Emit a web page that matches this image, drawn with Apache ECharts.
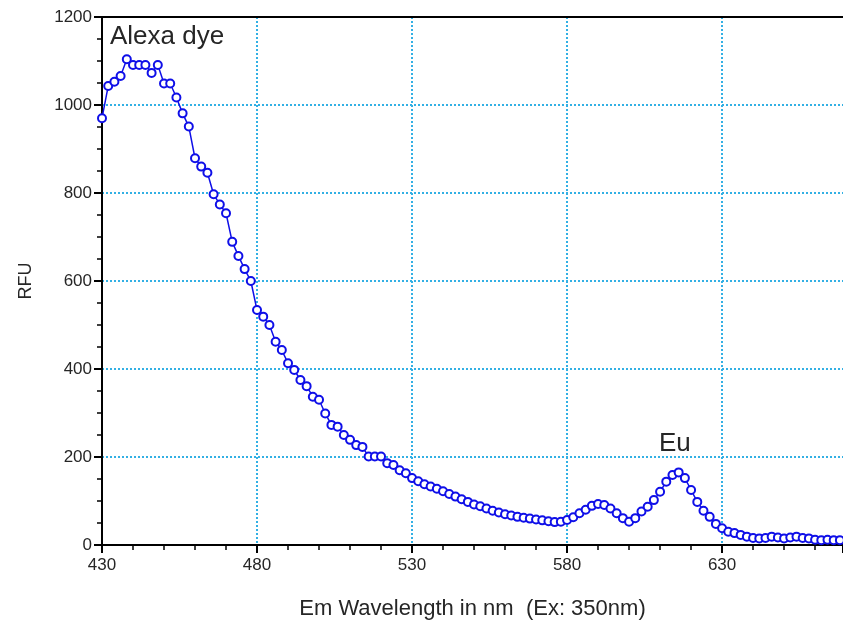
<!DOCTYPE html>
<html>
<head>
<meta charset="utf-8">
<script src="https://cdn.jsdelivr.net/npm/echarts@6/dist/echarts.min.js"></script>
<style>
  html, body { margin: 0; padding: 0; background: #fff; }
  #chart { width: 843px; height: 635px; }
</style>
</head>
<body>
<div id="chart"></div>
<script>
// emission wavelength (nm), one reading every 2 nm
var wavelengths = [
  430, 432, 434, 436, 438, 440, 442, 444, 446, 448,
  450, 452, 454, 456, 458, 460, 462, 464, 466, 468,
  470, 472, 474, 476, 478, 480, 482, 484, 486, 488,
  490, 492, 494, 496, 498, 500, 502, 504, 506, 508,
  510, 512, 514, 516, 518, 520, 522, 524, 526, 528,
  530, 532, 534, 536, 538, 540, 542, 544, 546, 548,
  550, 552, 554, 556, 558, 560, 562, 564, 566, 568,
  570, 572, 574, 576, 578, 580, 582, 584, 586, 588,
  590, 592, 594, 596, 598, 600, 602, 604, 606, 608,
  610, 612, 614, 616, 618, 620, 622, 624, 626, 628,
  630, 632, 634, 636, 638, 640, 642, 644, 646, 648,
  650, 652, 654, 656, 658, 660, 662, 664, 666, 668
];
// fluorescence (RFU)
var rfu = [
  970, 1043, 1053, 1066, 1104, 1091, 1091, 1091, 1073, 1091,
  1049, 1049, 1017, 981, 951, 879, 860, 846, 797, 774,
  754, 689, 657, 627, 600, 534, 519, 500, 462, 443,
  413, 398, 375, 361, 337, 330, 299, 273, 269, 250,
  239, 227, 223, 201, 201, 201, 186, 182, 170, 163,
  152, 145, 138, 133, 128, 122, 116, 110, 104, 98,
  92, 88, 83, 78, 74, 70, 67, 64, 62, 60,
  58, 56, 54, 52, 53, 57, 63, 72, 80, 89,
  93, 91, 83, 72, 61, 53, 61, 76, 87, 102,
  121, 144, 159, 165, 152, 125, 98, 78, 64, 48,
  38, 30, 27, 23, 19, 16, 15, 16, 19, 17,
  15, 17, 19, 16, 15, 12, 11, 12, 11, 11
];
var xTicks = [430, 480, 530, 580, 630];
var yTicks = [0, 200, 400, 600, 800, 1000, 1200];

var points = wavelengths.map(function (w, i) { return [w, rfu[i]]; });
var font = 'Liberation Sans';
var textColor = '#262626';
var gridColor = '#33b0e4';
var blue = '#0f0fe8';

var chart = echarts.init(document.getElementById('chart'));
chart.setOption({
  animation: false,
  backgroundColor: '#fff',
  grid: { left: 102, top: 17, right: 0, bottom: 90 },
  xAxis: [{
    type: 'value',
    min: 430,
    max: 669,
    interval: 50,
    name: 'Em Wavelength in nm  (Ex: 350nm)',
    nameLocation: 'middle',
    nameGap: 53,
    nameTextStyle: { fontFamily: font, fontSize: 22, color: textColor },
    axisLine: { lineStyle: { color: '#000', width: 2 } },
    axisTick: { length: 8, lineStyle: { color: '#000', width: 2 } },
    minorTick: { show: true, splitNumber: 5, length: 5, lineStyle: { color: '#000', width: 1.5 } },
    axisLabel: {
      showMaxLabel: false, margin: 12,
      fontFamily: font, fontSize: 17, color: textColor,
      formatter: function (v) { return xTicks.indexOf(v) >= 0 ? v : ''; }
    },
    splitLine: { show: true, showMaxLine: false, lineStyle: { color: gridColor, width: 2, type: [2, 2] } }
  }, {
    type: 'value',
    position: 'top',
    min: 430,
    max: 669,
    axisLine: { show: true, lineStyle: { color: '#000', width: 2 } },
    axisTick: { show: false },
    axisLabel: { show: false },
    splitLine: { show: false }
  }],
  yAxis: {
    type: 'value',
    min: 0,
    max: 1200,
    interval: 200,
    name: 'RFU',
    nameLocation: 'middle',
    nameGap: 67,
    nameTextStyle: { fontFamily: font, fontSize: 18, color: textColor },
    axisLine: { show: true, lineStyle: { color: '#000', width: 2 } },
    axisTick: { show: true, length: 8, lineStyle: { color: '#000', width: 2 } },
    minorTick: { show: true, splitNumber: 4, length: 5, lineStyle: { color: '#000', width: 1.5 } },
    axisLabel: {
      margin: 10, fontFamily: font, fontSize: 17, color: textColor,
      formatter: function (v) { return yTicks.indexOf(v) >= 0 ? v : ''; }
    },
    splitLine: { show: true, showMinLine: false, showMaxLine: false, lineStyle: { color: gridColor, width: 2, type: [2, 2] } }
  },
  series: [{
    type: 'line',
    data: points,
    symbol: 'circle',
    symbolSize: 8,
    showAllSymbol: true,
    lineStyle: { color: blue, width: 1.5 },
    itemStyle: { color: '#fff', borderColor: blue, borderWidth: 2 },
    z: 5
  }],
  graphic: [
    { type: 'text', left: 110, top: 24, style: { text: 'Alexa dye', fontFamily: font, fontSize: 26, fill: textColor } },
    { type: 'text', left: 659, top: 431, style: { text: 'Eu', fontFamily: font, fontSize: 26, fill: textColor } }
  ]
});
</script>
</body>
</html>
